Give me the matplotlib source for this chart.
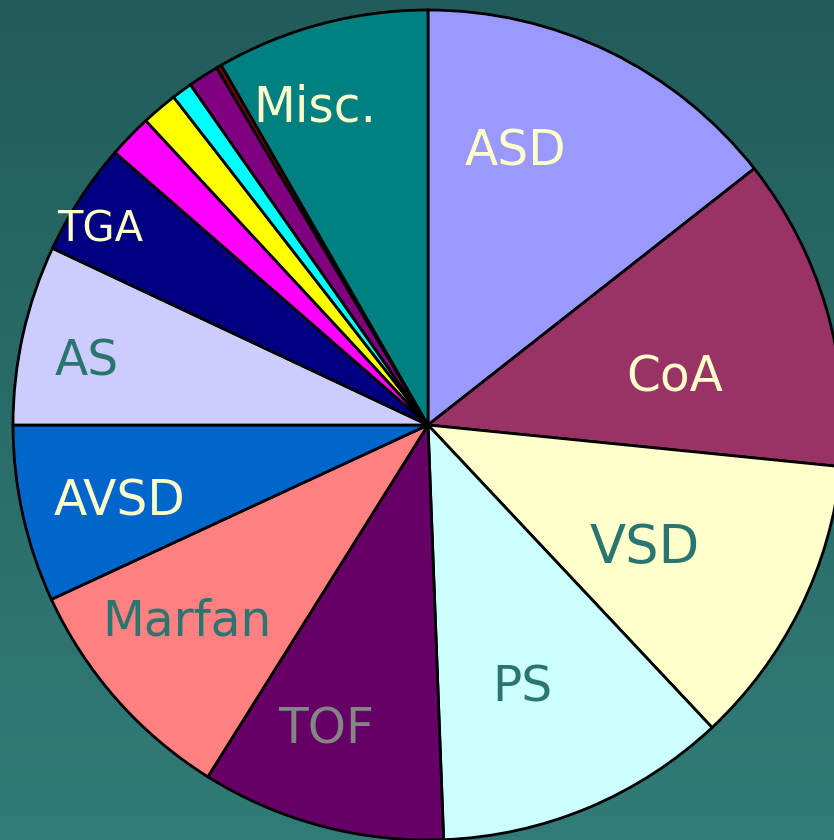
"""
Congenital heart defect pie chart on a teal gradient background.
Saves out.png (834x840).
"""

import matplotlib
matplotlib.use("Agg")
import matplotlib.pyplot as plt
import numpy as np

# ── Data ──────────────────────────────────────────────────────────────────────
# clockwise from 12 o'clock, percentages
labels = ["ASD", "CoA", "VSD", "PS", "TOF", "Marfan", "AVSD", "AS", "TGA",
          "", "", "", "", "", "Misc."]
shares = [14.4, 12.2, 11.4, 11.4, 9.5, 9.2, 6.9, 7.0, 4.4,
          1.7, 1.4, 0.8, 1.2, 0.2, 8.3]
colors = ["#9999ff", "#993366", "#ffffcc", "#ccffff", "#660066", "#ff8080",
          "#0066cc", "#ccccff", "#000080", "#ff00ff", "#ffff00", "#00ffff",
          "#800080", "#800000", "#008080"]

# ── Label styling (position in pixels, colour, size) ──────────────────────────
CREAM = "#ffffcc"
TEAL  = "#2b7571"
GREY  = "#858585"
label_style = {
    "ASD":    ((515, 152), CREAM, 35),
    "CoA":    ((675, 378), CREAM, 35),
    "VSD":    ((645, 548), TEAL, 38),
    "PS":     ((522, 688), TEAL, 35),
    "TOF":    ((326, 730), GREY, 35),
    "Marfan": ((187, 622), TEAL, 35),
    "AVSD":   ((120, 502), CREAM, 35),
    "AS":     ((87, 362), TEAL, 35),
    "TGA":    ((100, 230), CREAM, 30),
    "Misc.":  ((315, 108), CREAM, 35),
}

W, H = 834, 840
CX, CY, R = 428, 425, 415   # pixel coords (y from top)

fig = plt.figure(figsize=(W / 100, H / 100), dpi=100)
ax = fig.add_axes([0, 0, 1, 1])
ax.set_xlim(0, W)
ax.set_ylim(0, H)
ax.set_aspect("equal")
ax.axis("off")

# ── Background gradient (dark teal top → lighter teal bottom) ────────────────
top = np.array([34, 92, 90]) / 255
bot = np.array([49, 124, 120]) / 255
t = np.linspace(0, 1, 256)[:, None]
grad = (top * (1 - t) + bot * t)[:, None, :]
ax.imshow(grad, extent=[0, W, 0, H], origin="upper", aspect="auto", zorder=0)

# ── Pie ───────────────────────────────────────────────────────────────────────
ax.pie(shares, colors=colors, startangle=90, counterclock=False,
       center=(CX, H - CY), radius=R, frame=True,
       wedgeprops=dict(edgecolor="black", linewidth=2.0))
ax.set_xlim(0, W)
ax.set_ylim(0, H)
ax.axis("off")

# ── Labels ────────────────────────────────────────────────────────────────────
for name in labels:
    if not name:
        continue
    (px, py), col, fs = label_style[name]
    ax.text(px, H - py, name, ha="center", va="center", fontsize=fs,
            color=col, family="DejaVu Sans", zorder=5)

fig.savefig("out.png", dpi=100)
plt.close(fig)
